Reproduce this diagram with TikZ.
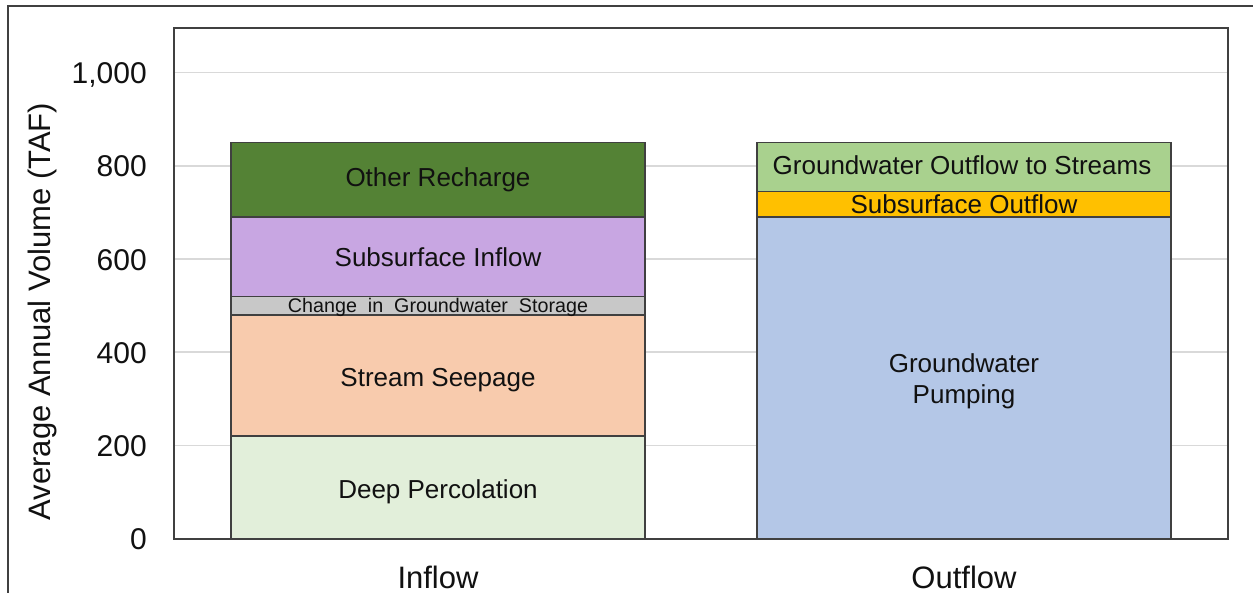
\documentclass[tikz,border=0pt]{standalone}
\usepackage{fontspec}
\setmainfont{Liberation Sans}
\definecolor{frameline}{HTML}{404040}
\definecolor{gridline}{HTML}{D9D9D9}
\definecolor{cOther}{HTML}{548235}
\definecolor{cSubIn}{HTML}{C8A6E2}
\definecolor{cStore}{HTML}{C8C8C8}
\definecolor{cSeep}{HTML}{F8CBAD}
\definecolor{cDeep}{HTML}{E2EFDA}
\definecolor{cGWStr}{HTML}{A9D18E}
\definecolor{cSubOut}{HTML}{FFC000}
\definecolor{cPump}{HTML}{B4C7E7}
\definecolor{txt}{HTML}{111111}
\begin{document}
\begin{tikzpicture}[x=1pt,y=-1pt,
  seg/.style={draw=frameline, line width=1.6pt},
  lbl/.style={anchor=base, inner sep=0pt, text=txt, font=\fontsize{26}{30}\selectfont},
  small/.style={anchor=base, inner sep=0pt, text=txt, font=\fontsize{19.7}{24}\selectfont},
  tick/.style={anchor=base east, inner sep=0pt, text=txt, font=\fontsize{30}{36}\selectfont},
  cat/.style={anchor=base, inner sep=0pt, text=txt, font=\fontsize{31}{36}\selectfont},
  grid/.style={draw=gridline, line width=1.6pt}]
\useasboundingbox (0,0) rectangle (1253,593);
\fill[white] (0,0) rectangle (1253,593);
% outer frame (left and top edges visible)
\draw[draw=frameline, line width=2pt] (7.5,600) -- (7.5,6) -- (1260,6);
% gridlines
\foreach \gy in {72.7,165.9,259.1,352.3,445.5}
  \draw[grid] (174,\gy) -- (1228,\gy);
% Inflow bar
\draw[seg, fill=cDeep]  (231,538.7) rectangle (645,436.2);
\draw[seg, fill=cSeep]  (231,436.2) rectangle (645,315.0);
\draw[seg, fill=cStore] (231,315.0) rectangle (645,296.4);
\draw[seg, fill=cSubIn] (231,296.4) rectangle (645,217.2);
\draw[seg, fill=cOther] (231,217.2) rectangle (645,142.6);
% Outflow bar
\draw[seg, fill=cPump]   (757,538.7) rectangle (1171,217.2);
\draw[seg, fill=cSubOut] (757,217.2) rectangle (1171,191.5);
\draw[seg, fill=cGWStr]  (757,191.5) rectangle (1171,142.6);
% plot frame
\draw[draw=frameline, line width=2pt] (174,28) rectangle (1228,538.7);
% segment labels
\node[lbl] (other) at (438,187) {Other Recharge};
\node[lbl] (subin) at (438,267) {Subsurface Inflow};
\node[small] (store) at (438,312.3) {Change\ \ in\ \ Groundwater\ \ Storage};
\node[lbl] (seep) at (438,386.7) {Stream Seepage};
\node[lbl] (deep) at (438,498) {Deep Percolation};
\node[lbl] (gwstr) at (962,175) {Groundwater Outflow to Streams};
\node[lbl] (subout) at (964,213.3) {Subsurface Outflow};
\node[lbl] (pump1) at (964,373) {Groundwater};
\node[lbl] (pump2) at (964,403) {Pumping};
% tick labels
\node[tick] (t1000) at (147,83.7) {1,000};
\node[tick] (t800) at (147,176.9) {800};
\node[tick] (t600) at (147,270.1) {600};
\node[tick] (t400) at (147,363.3) {400};
\node[tick] (t200) at (147,456.5) {200};
\node[tick] (t0) at (147,549.7) {0};
% category labels
\node[cat] (inflow) at (438,588) {Inflow};
\node[cat] (outflow) at (964,588) {Outflow};
% axis title
\node[anchor=base, inner sep=0pt, text=txt, font=\fontsize{31}{36}\selectfont, rotate=90] (ytitle) at (50,311.5) {Average Annual Volume (TAF)};
\end{tikzpicture}
\end{document}
